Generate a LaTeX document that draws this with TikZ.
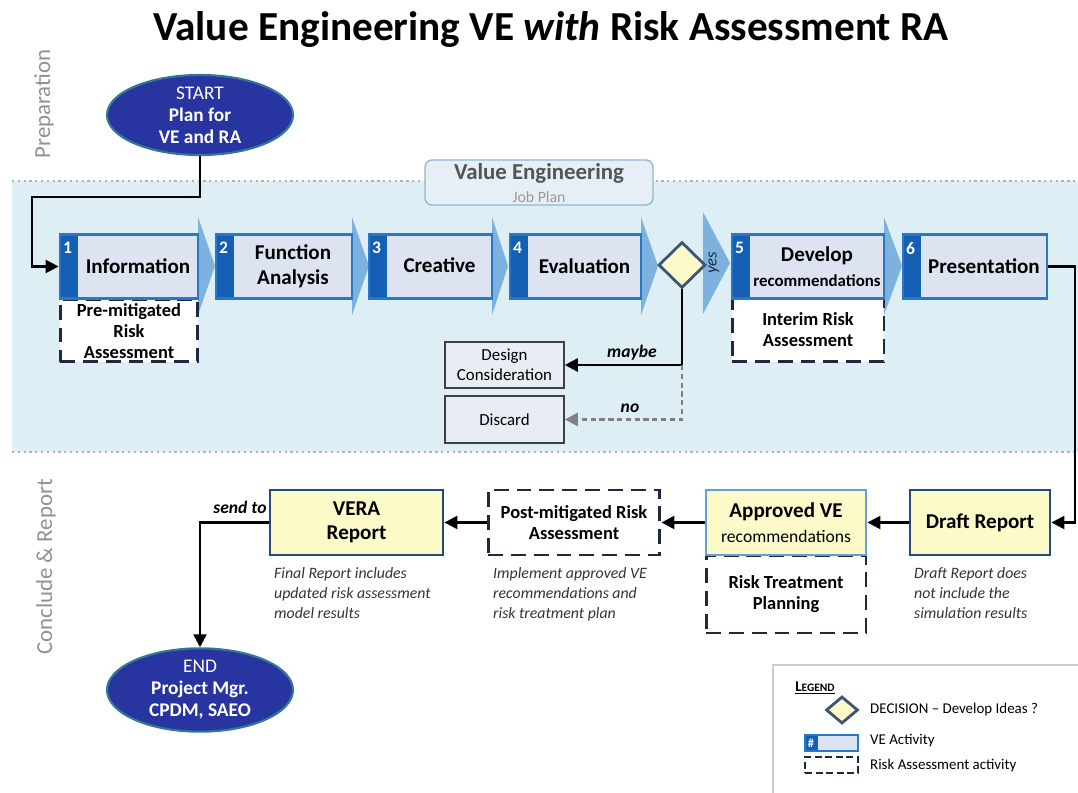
\documentclass[tikz,border=0pt]{standalone}
\usepackage{fontspec}
\setmainfont{Carlito}
\usepackage{tikz}
\usetikzlibrary{shapes.geometric,arrows.meta}
\usepackage{xcolor}
\definecolor{bandblue}{RGB}{221,238,245}
\definecolor{veblue}{RGB}{40,120,200}
\definecolor{vedark}{RGB}{20,95,180}
\definecolor{vefill}{RGB}{221,227,240}
\definecolor{chevblue}{RGB}{125,178,222}
\definecolor{navy}{RGB}{30,40,65}
\definecolor{startblue}{RGB}{40,52,160}
\definecolor{startedge}{RGB}{50,120,150}
\definecolor{paleyellow}{RGB}{252,250,200}
\definecolor{reportedge}{RGB}{35,75,125}
\definecolor{apprblue}{RGB}{100,160,215}
\definecolor{decedge}{RGB}{60,85,120}
\definecolor{sidegray}{RGB}{145,145,145}
\definecolor{headfill}{RGB}{230,238,246}
\definecolor{headedge}{RGB}{150,180,215}
\definecolor{optfill}{RGB}{232,236,244}

\begin{document}
\begin{tikzpicture}[x=0.02cm,y=-0.02cm,
    vebox/.style={draw=veblue,line width=1.6pt,fill=vefill,minimum height=1.28cm,inner sep=0pt,
      path picture={\fill[vedark] (path picture bounding box.north west) rectangle ([xshift=0.36cm]path picture bounding box.south west);}},
    steptext/.style={font=\fontsize{12}{14}\selectfont\bfseries,align=center,text=black},
    stepnum/.style={font=\fontsize{10}{11}\selectfont\bfseries,text=white},
    riskbox/.style={draw=navy,line width=1.7pt,dash pattern=on 8.5pt off 4.5pt,fill=white,inner sep=0pt,
      align=center,font=\fontsize{10.5}{12}\selectfont\bfseries},
    reportbox/.style={draw=reportedge,line width=1.6pt,fill=paleyellow,minimum height=1.3cm,inner sep=0pt,
      align=center,font=\fontsize{12}{14}\selectfont\bfseries},
    optbox/.style={draw=black!75,line width=0.9pt,fill=optfill,minimum width=2.38cm,minimum height=0.93cm,
      align=center,font=\fontsize{9.6}{11.5}\selectfont},
    terminal/.style={ellipse,draw=startedge,line width=1.2pt,fill=startblue,text=white,minimum width=3.72cm,
      minimum height=1.6cm,inner sep=0pt,align=center,font=\fontsize{11}{12.5}\selectfont},
    decision/.style={diamond,draw=decedge,line width=1.6pt,fill=paleyellow,inner sep=0pt},
    flow/.style={line width=1.4pt,-{Triangle[length=2.6mm,width=2.6mm]}},
    lbl/.style={font=\fontsize{10}{12}\selectfont\bfseries\itshape},
    caption/.style={anchor=north west,align=left,text=black!80,font=\fontsize{9}{11.4}\selectfont\itshape},
    legtext/.style={anchor=west,font=\fontsize{8.5}{10}\selectfont},
    sidelabel/.style={rotate=90,text=sidegray,font=\fontsize{13}{15}\selectfont}]
    \useasboundingbox (0,0) rectangle (1078,793);

    % title
    \node[font=\fontsize{23.5}{28}\selectfont\bfseries] (title) at (551,30) {Value Engineering VE \textit{with} Risk Assessment RA};

    % phases
    \node[sidelabel] (prep) at (44,104) {Preparation};
    \node[sidelabel] (concl) at (46,567) {Conclude \& Report};

    % job plan band
    \fill[bandblue] (12,181) rectangle (1078,452);
    \draw[dotted,gray!60,line width=1.3pt] (12,181) -- (1078,181);
    \draw[dotted,gray!60,line width=1.3pt] (12,452) -- (1078,452);
    \node[draw=headedge,line width=0.8pt,fill=headfill,rounded corners=4pt,minimum width=4.56cm,minimum height=0.9cm] (vehead) at (539,182.5) {};
    \node[font=\fontsize{13}{15}\selectfont\bfseries,text=black!67] at (539,173) {Value Engineering};
    \node[font=\fontsize{9}{10}\selectfont,text=black!40] at (539,197) {Job Plan};

    % start
    \node[terminal] (start) at (200,115) {START\\\textbf{Plan for}\\\textbf{VE and RA}};

    % chevrons between steps
    \foreach \x/\w in {198/17,352/17,492/16,641/17,884/18}
      \fill[chevblue] (\x,217) -- (\x+\w,266) -- (\x,315) -- cycle;
    \fill[chevblue] (703,212) -- (730,263) -- (703,314) -- cycle;
    \node[rotate=90,text=navy,font=\fontsize{9.5}{11}\selectfont\itshape] (yes) at (714,263) {yes};

    % risk assessment under the steps
    \node[riskbox,minimum width=2.76cm,minimum height=1.24cm] (premit) at (129,331) {Pre-mitigated\\Risk\\Assessment};
    \node[riskbox,minimum width=3.04cm,minimum height=1.28cm] (interim) at (808,330) {Interim Risk\\Assessment};

    % steps
    \node[vebox,minimum width=2.76cm] (info) at (129,266.5) {};
    \node[steptext] at ([xshift=0.18cm]info.center) {Information};
    \node[stepnum] at ([xshift=0.18cm,yshift=-0.3cm]info.north west) {1};

    \node[vebox,minimum width=2.72cm] (func) at (284,266.5) {};
    \node[steptext] at ([xshift=0.18cm]func.center) {Function\\Analysis};
    \node[stepnum] at ([xshift=0.18cm,yshift=-0.3cm]func.north west) {2};

    \node[vebox,minimum width=2.46cm] (creat) at (430.5,266.5) {};
    \node[steptext] at ([xshift=0.18cm,yshift=0.03cm]creat.center) {Creative};
    \node[stepnum] at ([xshift=0.18cm,yshift=-0.3cm]creat.north west) {3};

    \node[vebox,minimum width=2.62cm] (eval) at (575.5,266.5) {};
    \node[steptext] at ([xshift=0.18cm]eval.center) {Evaluation};
    \node[stepnum] at ([xshift=0.18cm,yshift=-0.3cm]eval.north west) {4};

    \node[vebox,minimum width=3.04cm] (devel) at (808,266.5) {};
    \node[steptext] at ([xshift=0.18cm]devel.center) {Develop\\{\fontsize{9.6}{11}\selectfont recommendations}};
    \node[stepnum] at ([xshift=0.18cm,yshift=-0.3cm]devel.north west) {5};

    \node[vebox,minimum width=2.88cm] (pres) at (975,266.5) {};
    \node[steptext] at ([xshift=0.18cm]pres.center) {Presentation};
    \node[stepnum] at ([xshift=0.18cm,yshift=-0.3cm]pres.north west) {6};

    % decision
    \node[decision,minimum width=0.94cm,minimum height=0.92cm] (dec) at (682,265) {};
    \node[optbox] (dcon) at (504.5,365) {Design\\Consideration};
    \node[optbox] (disc) at (504.5,419.5) {Discard};
    \coordinate (split) at (dec.south |- dcon.east);
    \draw[flow] (dec.south) |- (dcon.east);
    \draw[line width=1.2pt,dash pattern=on 3pt off 2pt,gray,-{Triangle[length=2.6mm,width=2.6mm]}] (split) |- (disc.east);
    \node[lbl] at (632,353) {maybe};
    \node[lbl] at (630,408) {no};

    % start to information
    \coordinate (startbend) at (32,197);
    \draw[flow] (start.south) |- (startbend) |- (info.west);

    % conclude and report
    \node[riskbox,minimum width=3.2cm,minimum height=1.56cm] (rtp) at (786,594) {Risk Treatment\\Planning};
    \node[reportbox,minimum width=2.8cm] (draft) at (980,522.5) {Draft Report};
    \node[reportbox,draw=apprblue,minimum width=3.2cm] (appr) at (786,522.5) {Approved VE\\{\fontsize{10}{12}\selectfont\mdseries recommendations}};
    \node[riskbox,minimum width=3.44cm,minimum height=1.3cm] (postmit) at (574,522.5) {Post-mitigated Risk\\Assessment};
    \node[reportbox,minimum width=3.46cm] (vera) at (356.5,522.5) {VERA\\Report};
    \node[terminal] (finish) at (200,690) {END\\\textbf{Project Mgr.}\\\textbf{CPDM, SAEO}};

    \coordinate (presbend) at (1075,300);
    \draw[flow] (pres.east) -| (presbend) |- (draft.east);
    \draw[flow] (draft.west) -- (appr.east);
    \draw[flow] (appr.west) -- (postmit.east);
    \draw[flow] (postmit.west) -- (vera.east);
    \draw[flow] (vera.west) -| (finish.north);
    \node[lbl] at (240,507) {send to};

    % notes
    \node[caption] at (268,561) {Final Report includes\\updated risk assessment\\model results};
    \node[caption] at (487,561) {Implement approved VE\\recommendations and\\risk treatment plan};
    \node[caption] at (908,561) {Draft Report does\\not include the\\simulation results};

    % legend
    \draw[gray!40,line width=1pt,fill=white] (773,665) rectangle (1090,800);
    \node[font=\bfseries] (legtitle) at (815,688) {\underline{{\fontsize{8.5}{10}\selectfont L}{\fontsize{6.5}{8}\selectfont EGEND}}};
    \node[decision,minimum width=0.64cm,minimum height=0.54cm] (legdec) at (842,710) {};
    \node[legtext] at (864,710) {DECISION -- Develop Ideas ?};
    \node[draw=veblue,line width=1.2pt,fill=vefill,minimum width=1.06cm,minimum height=0.32cm,inner sep=0pt,
      path picture={\fill[vedark] (path picture bounding box.north west) rectangle ([xshift=0.26cm]path picture bounding box.south west);}] (legve) at (831.5,743) {};
    \node[text=white,font=\fontsize{7}{8}\selectfont\bfseries] at (811,743) {\#};
    \node[legtext] at (864,741) {VE Activity};
    \node[draw=navy,line width=1.6pt,dash pattern=on 4pt off 2pt,minimum width=1.06cm,minimum height=0.32cm,inner sep=0pt] (legra) at (831.5,765) {};
    \node[legtext] at (864,766) {Risk Assessment activity};
\end{tikzpicture}
\end{document}
